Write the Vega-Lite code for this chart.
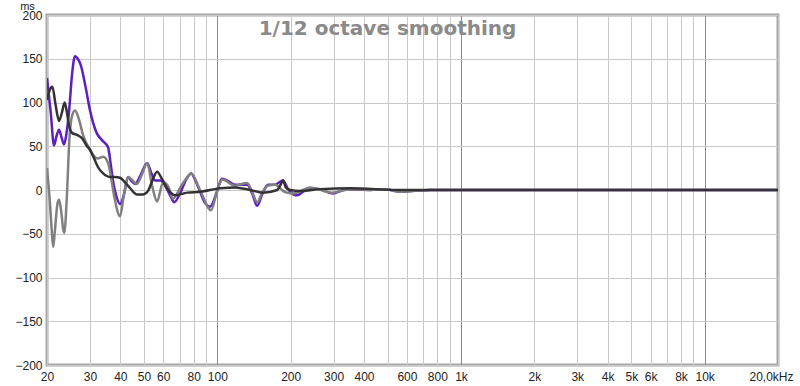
{
  "$schema": "https://vega.github.io/schema/vega-lite/v6.json",
  "width": 731,
  "height": 350,
  "autosize": {"type": "none"},
  "padding": {"left": 47, "top": 15, "right": 22, "bottom": 21},
  "background": "white",
  "config": {
    "view": {"stroke": "#a6a6a6", "strokeWidth": 3},
    "font": "Liberation Sans"
  },
  "title": {
    "text": "1/12 octave smoothing",
    "font": "DejaVu Sans",
    "fontSize": 20,
    "fontWeight": "bold",
    "color": "#8a8a8a",
    "anchor": "middle",
    "frame": "group",
    "baseline": "alphabetic",
    "offset": -55,
    "dx": -25
  },
  "data": {
    "values": [
      {"s": "a", "f": 20, "v": 128}, {"s": "a", "f": 20.71, "v": 89}, {"s": "a", "f": 21.37, "v": 51}, {"s": "a", "f": 21.9, "v": 62},
      {"s": "a", "f": 22.41, "v": 69}, {"s": "a", "f": 22.95, "v": 60}, {"s": "a", "f": 23.5, "v": 52}, {"s": "a", "f": 24.05, "v": 65},
      {"s": "a", "f": 24.62, "v": 89}, {"s": "a", "f": 25.4, "v": 135}, {"s": "a", "f": 26.06, "v": 153}, {"s": "a", "f": 26.75, "v": 150},
      {"s": "a", "f": 27.5, "v": 143}, {"s": "a", "f": 28.83, "v": 117}, {"s": "a", "f": 30.03, "v": 91}, {"s": "a", "f": 32.0, "v": 65},
      {"s": "a", "f": 33.6, "v": 57}, {"s": "a", "f": 35.6, "v": 49}, {"s": "a", "f": 36.5, "v": 30}, {"s": "a", "f": 37.3, "v": 11},
      {"s": "a", "f": 38.6, "v": -8}, {"s": "a", "f": 39.9, "v": -16}, {"s": "a", "f": 41.4, "v": -5}, {"s": "a", "f": 43.0, "v": 15},
      {"s": "a", "f": 44.5, "v": 10}, {"s": "a", "f": 46.0, "v": 7}, {"s": "a", "f": 48.6, "v": 18}, {"s": "a", "f": 51.5, "v": 31},
      {"s": "a", "f": 53.5, "v": 20}, {"s": "a", "f": 55.5, "v": 11}, {"s": "a", "f": 58.5, "v": 11}, {"s": "a", "f": 61.6, "v": 3},
      {"s": "a", "f": 64.5, "v": -8}, {"s": "a", "f": 66.5, "v": -14}, {"s": "a", "f": 70.3, "v": -4}, {"s": "a", "f": 74.5, "v": 12},
      {"s": "a", "f": 78.1, "v": 19}, {"s": "a", "f": 81.5, "v": 10}, {"s": "a", "f": 85.0, "v": -2}, {"s": "a", "f": 89.1, "v": -15},
      {"s": "a", "f": 93.4, "v": -19}, {"s": "a", "f": 97.9, "v": -8}, {"s": "a", "f": 101.7, "v": 6}, {"s": "a", "f": 104.5, "v": 13},
      {"s": "a", "f": 109.4, "v": 11}, {"s": "a", "f": 118.4, "v": 6}, {"s": "a", "f": 125, "v": 6}, {"s": "a", "f": 132.5, "v": 6},
      {"s": "a", "f": 139, "v": -4}, {"s": "a", "f": 145.7, "v": -18}, {"s": "a", "f": 152.7, "v": -5}, {"s": "a", "f": 161.7, "v": 6},
      {"s": "a", "f": 172.7, "v": 6}, {"s": "a", "f": 180, "v": 9}, {"s": "a", "f": 186.2, "v": 11}, {"s": "a", "f": 193.4, "v": 3},
      {"s": "a", "f": 199, "v": -2}, {"s": "a", "f": 212.6, "v": -6}, {"s": "a", "f": 225, "v": -2}, {"s": "a", "f": 240.4, "v": 2},
      {"s": "a", "f": 264.4, "v": 1}, {"s": "a", "f": 296.1, "v": -4}, {"s": "a", "f": 341, "v": 1}, {"s": "a", "f": 424, "v": 0},
      {"s": "a", "f": 489, "v": 1}, {"s": "a", "f": 564, "v": -2}, {"s": "a", "f": 637, "v": -1}, {"s": "a", "f": 748, "v": 0},
      {"s": "a", "f": 993, "v": 0}, {"s": "a", "f": 2000, "v": 0}, {"s": "a", "f": 5000, "v": 0}, {"s": "a", "f": 20000, "v": 0},

      {"s": "b", "f": 20, "v": 25}, {"s": "b", "f": 20.3, "v": 5}, {"s": "b", "f": 20.57, "v": -15}, {"s": "b", "f": 20.9, "v": -45},
      {"s": "b", "f": 21.2, "v": -65}, {"s": "b", "f": 21.5, "v": -50}, {"s": "b", "f": 21.8, "v": -30}, {"s": "b", "f": 22.1, "v": -15},
      {"s": "b", "f": 22.41, "v": -11}, {"s": "b", "f": 22.7, "v": -18}, {"s": "b", "f": 23.0, "v": -30}, {"s": "b", "f": 23.3, "v": -45},
      {"s": "b", "f": 23.6, "v": -49}, {"s": "b", "f": 23.9, "v": -30}, {"s": "b", "f": 24.2, "v": 0}, {"s": "b", "f": 24.62, "v": 50},
      {"s": "b", "f": 25.35, "v": 85}, {"s": "b", "f": 26.06, "v": 91}, {"s": "b", "f": 27.1, "v": 80}, {"s": "b", "f": 28.1, "v": 63},
      {"s": "b", "f": 30.03, "v": 46}, {"s": "b", "f": 32.2, "v": 36}, {"s": "b", "f": 34.0, "v": 38}, {"s": "b", "f": 35.6, "v": 31},
      {"s": "b", "f": 36.6, "v": 15}, {"s": "b", "f": 37.8, "v": -8}, {"s": "b", "f": 39.9, "v": -30}, {"s": "b", "f": 41.4, "v": -5},
      {"s": "b", "f": 43.0, "v": 15}, {"s": "b", "f": 46.8, "v": 7}, {"s": "b", "f": 49.1, "v": 18}, {"s": "b", "f": 51.5, "v": 31},
      {"s": "b", "f": 54.0, "v": 5}, {"s": "b", "f": 56.6, "v": -13}, {"s": "b", "f": 59.9, "v": 9}, {"s": "b", "f": 62.9, "v": 4},
      {"s": "b", "f": 65.8, "v": -10}, {"s": "b", "f": 70.5, "v": 3}, {"s": "b", "f": 74.5, "v": 13}, {"s": "b", "f": 78.2, "v": 19},
      {"s": "b", "f": 84.9, "v": 0}, {"s": "b", "f": 94.3, "v": -23}, {"s": "b", "f": 99, "v": -5}, {"s": "b", "f": 104.7, "v": 12},
      {"s": "b", "f": 118, "v": 5}, {"s": "b", "f": 132.5, "v": 8}, {"s": "b", "f": 139, "v": -2}, {"s": "b", "f": 145.7, "v": -14},
      {"s": "b", "f": 152.7, "v": -3}, {"s": "b", "f": 161.7, "v": 5}, {"s": "b", "f": 172.7, "v": 6}, {"s": "b", "f": 180, "v": 3},
      {"s": "b", "f": 186, "v": -1}, {"s": "b", "f": 193, "v": -3}, {"s": "b", "f": 205, "v": -4}, {"s": "b", "f": 225, "v": 0},
      {"s": "b", "f": 240, "v": 3}, {"s": "b", "f": 296, "v": -3}, {"s": "b", "f": 351, "v": 1}, {"s": "b", "f": 424, "v": 0},
      {"s": "b", "f": 490, "v": 1}, {"s": "b", "f": 564, "v": -2}, {"s": "b", "f": 748, "v": 0}, {"s": "b", "f": 993, "v": 0},
      {"s": "b", "f": 2000, "v": 0}, {"s": "b", "f": 5000, "v": 0}, {"s": "b", "f": 20000, "v": 0},

      {"s": "c", "f": 20, "v": 103}, {"s": "c", "f": 20.5, "v": 114}, {"s": "c", "f": 21.04, "v": 118}, {"s": "c", "f": 21.7, "v": 97},
      {"s": "c", "f": 22.41, "v": 79}, {"s": "c", "f": 23.0, "v": 88}, {"s": "c", "f": 23.63, "v": 100}, {"s": "c", "f": 24.1, "v": 90},
      {"s": "c", "f": 24.62, "v": 74}, {"s": "c", "f": 25.4, "v": 65}, {"s": "c", "f": 26.6, "v": 63}, {"s": "c", "f": 27.9, "v": 59},
      {"s": "c", "f": 29.2, "v": 50}, {"s": "c", "f": 30.0, "v": 46}, {"s": "c", "f": 31.0, "v": 38}, {"s": "c", "f": 32.4, "v": 26},
      {"s": "c", "f": 34.0, "v": 19}, {"s": "c", "f": 36.2, "v": 15}, {"s": "c", "f": 38.0, "v": 15}, {"s": "c", "f": 39.9, "v": 14},
      {"s": "c", "f": 42, "v": 8}, {"s": "c", "f": 43.9, "v": 2}, {"s": "c", "f": 46.8, "v": -5}, {"s": "c", "f": 49.6, "v": -5},
      {"s": "c", "f": 52.0, "v": -1}, {"s": "c", "f": 54.0, "v": 10}, {"s": "c", "f": 56.6, "v": 21}, {"s": "c", "f": 59.4, "v": 12},
      {"s": "c", "f": 62.2, "v": 2}, {"s": "c", "f": 67.1, "v": -6}, {"s": "c", "f": 75.2, "v": -3}, {"s": "c", "f": 85.0, "v": -2},
      {"s": "c", "f": 102.7, "v": 2}, {"s": "c", "f": 118.4, "v": 3}, {"s": "c", "f": 136.4, "v": 0}, {"s": "c", "f": 154.2, "v": -3},
      {"s": "c", "f": 176.1, "v": 0}, {"s": "c", "f": 181, "v": 5}, {"s": "c", "f": 186.2, "v": 11}, {"s": "c", "f": 191, "v": 3},
      {"s": "c", "f": 199, "v": 0}, {"s": "c", "f": 218.8, "v": -1}, {"s": "c", "f": 264.4, "v": 1}, {"s": "c", "f": 351, "v": 2},
      {"s": "c", "f": 564, "v": 0}, {"s": "c", "f": 1000, "v": 0}, {"s": "c", "f": 20000, "v": 0}
    ]
  },
  "mark": {"type": "line", "strokeWidth": 2.5, "interpolate": "monotone", "clip": true},
  "encoding": {
    "x": {
      "field": "f",
      "type": "quantitative",
      "scale": {"type": "log", "domain": [20, 20000]},
      "axis": {
        "title": null,
        "values": [20, 30, 40, 50, 60, 70, 80, 90, 100, 200, 300, 400, 500, 600, 700, 800, 900, 1000, 2000, 3000, 4000, 5000, 6000, 7000, 8000, 9000, 10000, 20000],
        "labelExpr": "datum.value == 20000 ? '20,0kHz' : indexof([70, 90, 500, 700, 900, 7000, 9000], datum.value) >= 0 ? '' : datum.value >= 1000 ? (datum.value / 1000) + 'k' : '' + datum.value",
        "grid": true,
        "gridColor": {"condition": {"test": "datum.value == 100 || datum.value == 1000 || datum.value == 10000", "value": "#8c8c8c"}, "value": "#c8c8c8"},
        "gridWidth": 1,
        "ticks": false,
        "domain": false,
        "labelPadding": 6,
        "labelFontSize": 12,
        "labelColor": "#222222",
        "labelOverlap": false,
        "labelFlush": false,
        "labelOffset": {"condition": {"test": "datum.value == 20000", "value": -7}, "value": 0}
      }
    },
    "y": {
      "field": "v",
      "type": "quantitative",
      "scale": {"domain": [-200, 200]},
      "axis": {
        "values": [-200, -150, -100, -50, 0, 50, 100, 150, 200],
        "grid": true,
        "gridColor": "#c8c8c8",
        "ticks": false,
        "domain": false,
        "labelPadding": 5,
        "labelFontSize": 12,
        "labelColor": "#222222",
        "title": "ms",
        "titleAngle": 0,
        "titleX": -20,
        "titleY": -15,
        "titleAlign": "center",
        "titleBaseline": "top",
        "titleFontWeight": "normal",
        "titleFontSize": 11,
        "titleColor": "#222222"
      }
    },
    "color": {
      "field": "s",
      "type": "nominal",
      "scale": {"domain": ["a", "b", "c"], "range": ["#5f1fbf", "#808080", "#333333"]},
      "legend": null
    }
  }
}
